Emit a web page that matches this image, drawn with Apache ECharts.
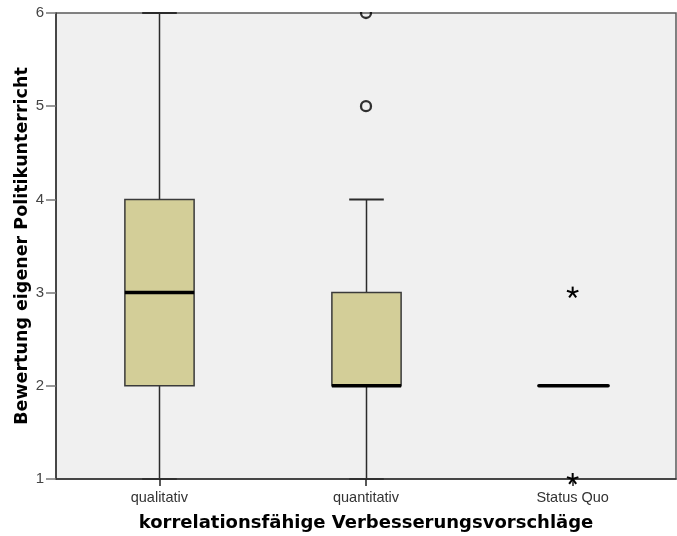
<!DOCTYPE html>
<html>
<head>
<meta charset="utf-8">
<script src="https://cdn.jsdelivr.net/npm/echarts@6/dist/echarts.min.js"></script>
<style>html,body{margin:0;padding:0;background:#fff;}#c{width:677px;height:536px;}</style>
</head>
<body>
<div id="c"></div>
<script>
const categories = ['qualitativ', 'quantitativ', 'Status Quo'];
const whiskerLow = [1, 1, 2];
const q1 = [2, 2, 2];
const median = [3, 2, 2];
const q3 = [4, 3, 2];
const whiskerHigh = [6, 4, 2];
const circleCat = ['quantitativ', 'quantitativ'];
const circleVal = [5, 6];
const starCat = ['Status Quo', 'Status Quo'];
const starVal = [3, 1];
const yTicks = [1, 2, 3, 4, 5, 6];

const FONT = '"Liberation Sans", Arial, sans-serif';
const BOLDFONT = '"DejaVu Sans", "Liberation Sans", Arial, sans-serif';
const boxData = categories.map((c, i) => [i, whiskerLow[i], q1[i], median[i], q3[i], whiskerHigh[i]]);
const circleData = circleCat.map((c, i) => [categories.indexOf(c), circleVal[i]]);
const starData = starCat.map((c, i) => [categories.indexOf(c), starVal[i]]);

const chart = echarts.init(document.getElementById('c'), null, {renderer: 'canvas'});

function renderBox(params, api) {
  const x = api.value(0);
  const pLo = api.coord([x, api.value(1)]);
  const pQ1 = api.coord([x, api.value(2)]);
  const pMed = api.coord([x, api.value(3)]);
  const pQ3 = api.coord([x, api.value(4)]);
  const pHi = api.coord([x, api.value(5)]);
  const band = api.size([1, 0])[0];
  const bw = band * 0.335;
  const cx = Math.round(pMed[0]) + 0.5;
  const hw = bw / 2, cw = bw / 4;
  const stroke = '#2b2b2b';
  const children = [];
  if (pHi[1] < pQ3[1]) {
    children.push({type: 'line', shape: {x1: cx, y1: pQ3[1], x2: cx, y2: pHi[1]}, style: {stroke: stroke, lineWidth: 1.5}});
    children.push({type: 'line', shape: {x1: cx - cw, y1: pHi[1], x2: cx + cw, y2: pHi[1]}, style: {stroke: stroke, lineWidth: 2}});
  }
  if (pLo[1] > pQ1[1]) {
    children.push({type: 'line', shape: {x1: cx, y1: pQ1[1], x2: cx, y2: pLo[1]}, style: {stroke: stroke, lineWidth: 1.5}});
    children.push({type: 'line', shape: {x1: cx - cw, y1: pLo[1], x2: cx + cw, y2: pLo[1]}, style: {stroke: stroke, lineWidth: 2}});
  }
  children.push({type: 'rect', shape: {x: cx - hw, y: pQ3[1], width: bw, height: pQ1[1] - pQ3[1]},
    style: {fill: '#d3ce98', stroke: '#3a3a3a', lineWidth: 1.5}});
  children.push({type: 'line', shape: {x1: cx - hw, y1: pMed[1], x2: cx + hw, y2: pMed[1]},
    style: {stroke: '#000', lineWidth: 3.5, lineCap: (pQ1[1] === pQ3[1]) ? 'round' : 'butt'}});
  return {type: 'group', children: children};
}

function renderStar(params, api) {
  const p = api.coord([api.value(0), api.value(1)]);
  const r = 6;
  const children = [];
  for (let k = 0; k < 5; k++) {
    const a = -Math.PI / 2 + k * 2 * Math.PI / 5;
    children.push({type: 'line', shape: {x1: p[0], y1: p[1], x2: p[0] + r * Math.cos(a), y2: p[1] + r * Math.sin(a)},
      style: {stroke: '#000', lineWidth: 2}});
  }
  return {type: 'group', children: children};
}

chart.setOption({
  animation: false,
  backgroundColor: '#ffffff',
  grid: {left: 56, right: 1, top: 13, bottom: 57, outerBoundsMode: 'none', containLabel: false,
    show: true, backgroundColor: '#f0f0f0', borderColor: '#5a5a5a', borderWidth: 1.5},
  xAxis: {
    type: 'category', data: categories, boundaryGap: true, z: 5,
    name: 'korrelationsfähige Verbesserungsvorschläge', nameLocation: 'middle', nameGap: 35,
    nameTextStyle: {fontFamily: BOLDFONT, fontSize: 18, fontWeight: 'bold', color: '#000'},
    axisLine: {show: true, lineStyle: {color: '#333', width: 1.5}},
    axisTick: {show: true, alignWithLabel: true, length: 7, lineStyle: {color: '#222', width: 1.5}},
    axisLabel: {fontFamily: FONT, fontSize: 14.5, color: '#333', margin: 11},
    splitLine: {show: false}
  },
  yAxis: {
    type: 'value', min: 1, max: 6, interval: 1, z: 5,
    name: 'Bewertung eigener Politikunterricht', nameLocation: 'middle', nameGap: 25, nameMoveOverlap: false,
    nameTextStyle: {fontFamily: BOLDFONT, fontSize: 17.5, fontWeight: 'bold', color: '#000'},
    axisLine: {show: true, lineStyle: {color: '#333', width: 1.5}},
    axisTick: {show: true, length: 10, lineStyle: {color: '#777', width: 1.5}},
    axisLabel: {fontFamily: FONT, fontSize: 15, color: '#444', margin: 12,
      formatter: v => yTicks.indexOf(v) >= 0 ? String(v) : ''},
    splitLine: {show: false}
  },
  graphic: [{type: 'rect', left: 56, top: 0, shape: {width: 621, height: 12}, style: {fill: '#fff'}, z: 3}],
  series: [
    {type: 'custom', renderItem: renderBox, data: boxData, encode: {x: 0, y: [1, 2, 3, 4, 5]}, z: 2},
    {type: 'scatter', data: circleData, symbol: 'circle', symbolSize: 10,
      itemStyle: {color: 'rgba(0,0,0,0)', borderColor: '#000', borderWidth: 2.3}, z: 2},
    {type: 'custom', renderItem: renderStar, data: starData, encode: {x: 0, y: 1}, z: 6}
  ]
});
</script>
</body>
</html>
